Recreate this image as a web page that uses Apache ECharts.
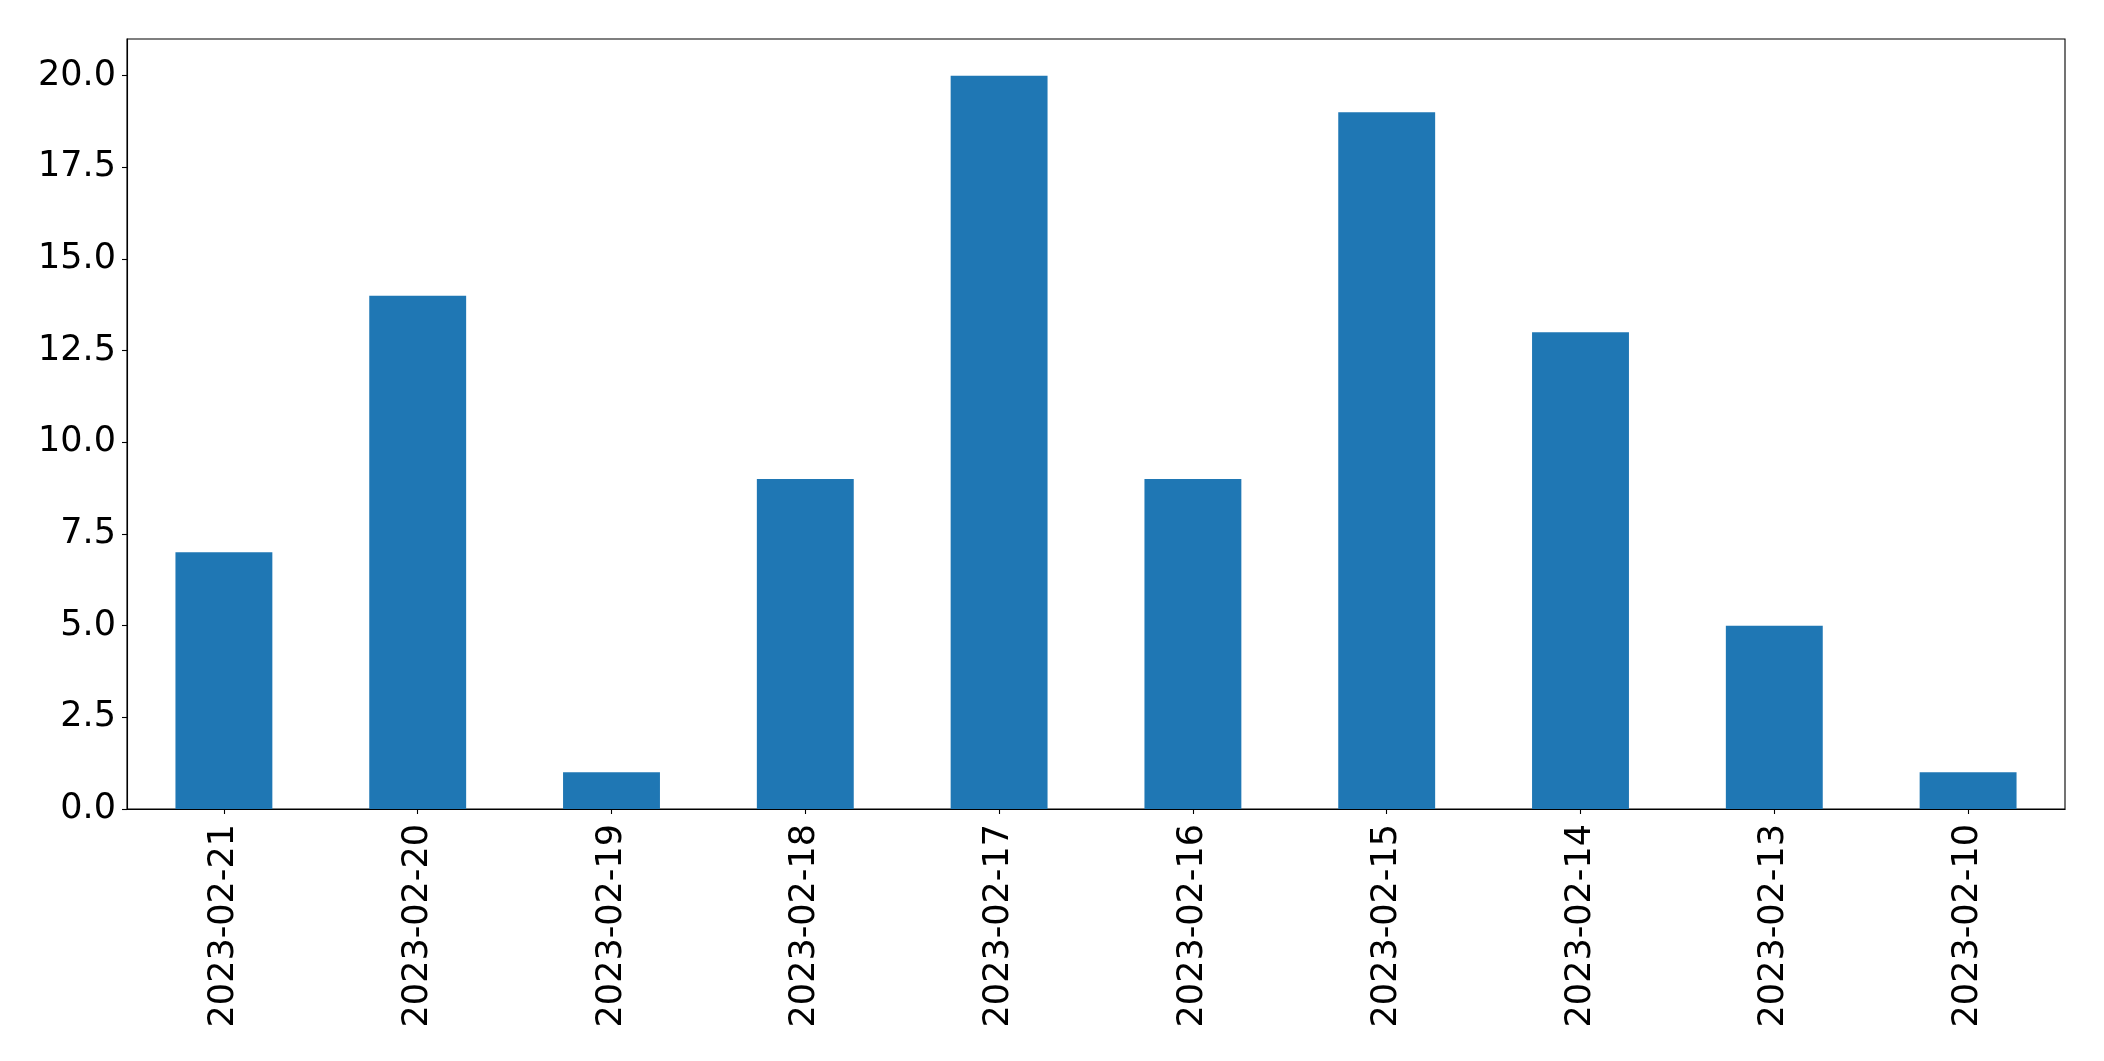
<!DOCTYPE html>
<html>
<head>
<meta charset="utf-8">
<script src="https://cdn.jsdelivr.net/npm/echarts@6/dist/echarts.min.js"></script>
<style>
html,body{margin:0;padding:0;background:#fff;}
#chart{width:2104px;height:1061px;}
</style>
</head>
<body>
<div id="chart"></div>
<script>
const categories = ["2023-02-21","2023-02-20","2023-02-19","2023-02-18","2023-02-17","2023-02-16","2023-02-15","2023-02-14","2023-02-13","2023-02-10"];
const values = [7, 14, 1, 9, 20, 9, 19, 13, 5, 1];
const yMin = 0, yMax = 21, yInterval = 2.5;

const chart = echarts.init(document.getElementById('chart'), null, {renderer: 'canvas'});
const font = 'DejaVu Sans';
chart.setOption({
  animation: false,
  backgroundColor: '#ffffff',
  grid: {left: 127, top: 39, width: 1938, height: 770, show: true, borderColor: '#000', borderWidth: 1.1, backgroundColor: 'transparent'},
  xAxis: {
    type: 'category',
    data: categories,
    boundaryGap: true,
    axisLine: {show: true, lineStyle: {color: '#000', width: 1.1}},
    axisTick: {show: true, alignWithLabel: true, length: 5, lineStyle: {color: '#000', width: 1.1}},
    axisLabel: {rotate: 90, margin: 15, color: '#000', fontFamily: font, fontSize: 35, interval: 0}
  },
  yAxis: {
    type: 'value',
    min: yMin, max: yMax, interval: yInterval,
    splitLine: {show: false},
    axisLine: {show: true, lineStyle: {color: '#000', width: 1.1}},
    axisTick: {show: true, length: 5, lineStyle: {color: '#000', width: 1.1}},
    axisLabel: {showMaxLabel: false, margin: 11, color: '#000', fontFamily: font, fontSize: 35,
      formatter: v => v.toFixed(1)}
  },
  series: [{
    type: 'bar',
    data: values,
    barWidth: '50%',
    itemStyle: {color: '#1f77b4'}
  }]
});
</script>
</body>
</html>
